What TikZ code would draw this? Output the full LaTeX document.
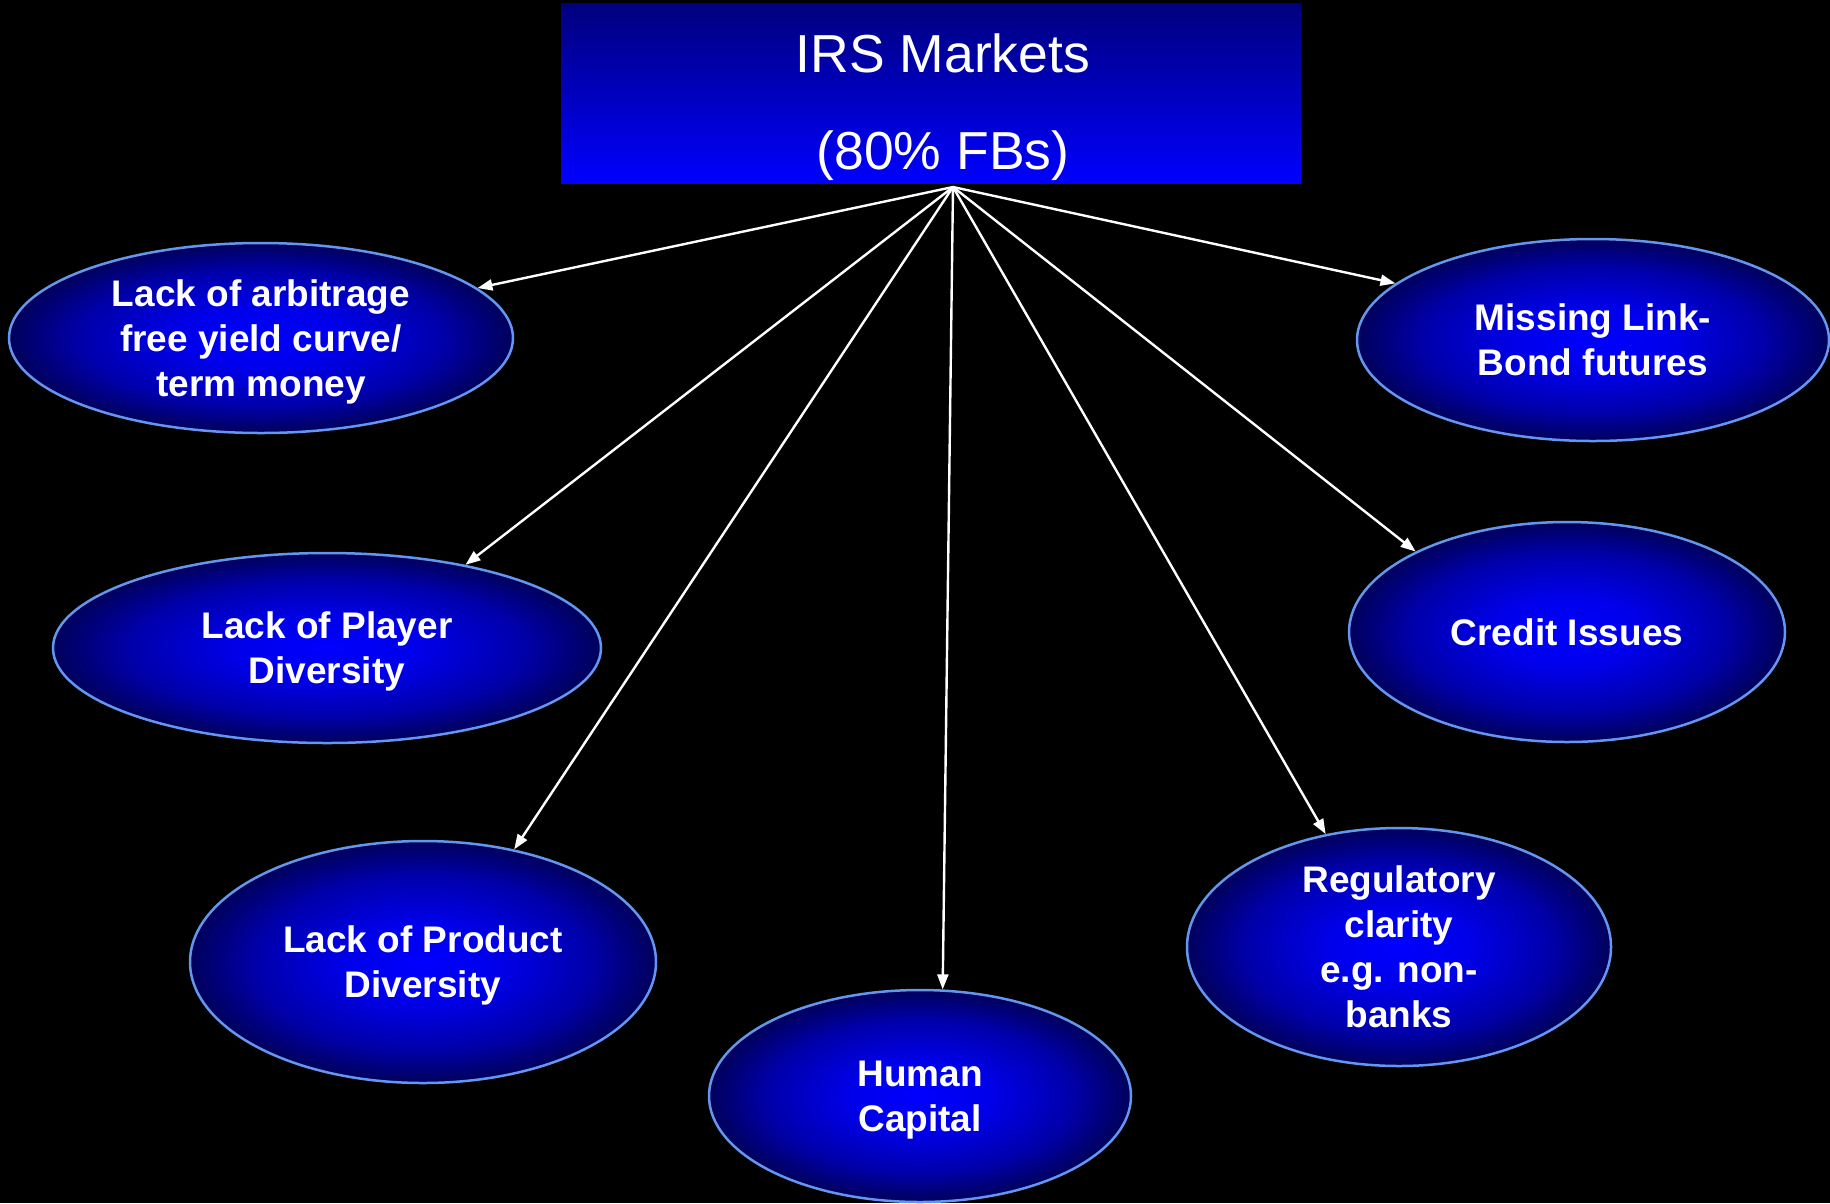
\documentclass[tikz,border=0pt]{standalone}
\usepackage{fontspec}
\setmainfont{Liberation Sans}
\usetikzlibrary{shapes.geometric,arrows.meta}
\definecolor{rimblue}{RGB}{100,150,240}
\definecolor{glowa}{RGB}{0,0,255}
\definecolor{glowb}{RGB}{0,0,235}
\definecolor{glowc}{RGB}{0,0,170}
\definecolor{glowd}{RGB}{0,0,80}
\definecolor{glowe}{RGB}{0,0,22}
\definecolor{boxtop}{RGB}{0,0,125}
\definecolor{boxbot}{RGB}{0,0,255}
\pgfdeclareradialshading{ellglow}{\pgfpoint{0bp}{0bp}}{color(0bp)=(glowa); color(8bp)=(glowb); color(18bp)=(glowc); color(26bp)=(glowd); color(33bp)=(glowe); color(60bp)=(glowe)}
\tikzset{
  topic/.style={ellipse, draw=rimblue, line width=2.5pt, shading=ellglow, inner sep=0pt,
    text=white, align=center, text depth=-4pt,
    font=\bfseries\fontsize{37}{45}\selectfont},
  arr/.style={draw=white, line width=2.4pt, -{Triangle[length=15pt,width=11pt]}},
}
\begin{document}
\begin{tikzpicture}[x=1pt,y=-1pt]
\fill[black] (0,0) rectangle (1830,1203);
\useasboundingbox (0,0) rectangle (1830,1203);
\node[rectangle, top color=boxtop, bottom color=boxbot, minimum width=740pt, minimum height=180pt,
  inner sep=0pt, text=white, align=center, font=\fontsize{53.5}{97}\selectfont] (title) at (931,93)
  {\raisebox{-27.5pt}[0pt][0pt]{\hspace*{24pt}IRS Markets}\\\raisebox{-27.5pt}[0pt][0pt]{\hspace*{24pt}(80\% FBs)}};
\coordinate (src) at (953,187);
\node[topic, minimum width=504pt, minimum height=190pt] (e1) at (261,338) {Lack of arbitrage\\free yield curve/\\term money};
\node[topic, minimum width=548pt, minimum height=190pt] (e2) at (327,648) {Lack of Player\\Diversity};
\node[topic, minimum width=466pt, minimum height=242pt] (e3) at (423,962) {Lack of Product\\Diversity};
\node[topic, minimum width=422pt, minimum height=212pt] (e4) at (920,1096) {Human\\Capital};
\node[topic, minimum width=424pt, minimum height=238pt] (e5) at (1399,947) {Regulatory\\clarity\\e.g. non-\\banks};
\node[topic, minimum width=436pt, minimum height=220pt] (e6) at (1567,632) {Credit Issues};
\node[topic, minimum width=472pt, minimum height=202pt] (e7) at (1593,340) {Missing Link-\\Bond futures};
\draw[arr] (src) -- (e1.13);
\draw[arr] (src) -- (e2.31);
\draw[arr] (src) -- (e3.51);
\draw[arr] (src) -- (e4.78);
\draw[arr] (src) -- (e5.123);
\draw[arr] (src) -- (e6.152);
\draw[arr] (src) -- (e7.164);
\end{tikzpicture}
\end{document}
